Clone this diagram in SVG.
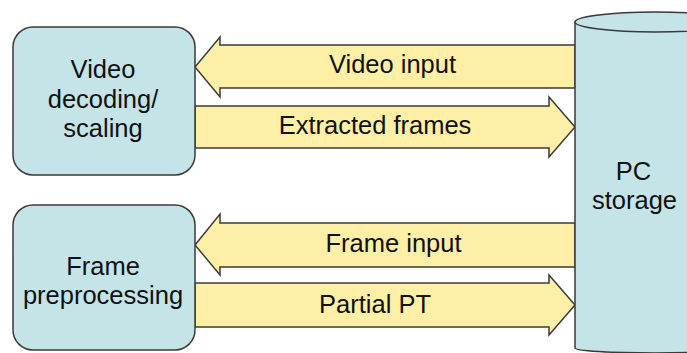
<svg xmlns="http://www.w3.org/2000/svg" width="687" height="353" viewBox="0 0 687 353">
  <style>
    .proc { fill: #c5e4e8; stroke: #3a3a3a; stroke-width: 1.5; }
    .flow { fill: #fdefa6; stroke: #3a3a3a; stroke-width: 1.5; stroke-linejoin: miter; }
    .store { fill: #c5e4e8; stroke: #3a3a3a; stroke-width: 1.5; }
    text { font-family: "Liberation Sans", Arial, sans-serif; font-size: 25.5px; fill: #111; text-anchor: middle; }
  </style>
  <rect width="687" height="353" fill="#ffffff"/>

  <!-- block arrows between the processing stages and storage -->
  <g id="connectors">
    <g id="flow-video-input">
      <polygon class="flow" points="195,67 220,37 220,45 575,45 575,88 220,88 220,97"/>
      <text x="392.5" y="73">Video input</text>
    </g>
    <g id="flow-extracted-frames">
      <polygon class="flow" points="195,106 549,106 549,97 575,127 549,157 549,148 195,148"/>
      <text x="375" y="134">Extracted frames</text>
    </g>
    <g id="flow-frame-input">
      <polygon class="flow" points="195,245 220,214 220,223 575,223 575,267 220,267 220,275"/>
      <text x="393.5" y="252">Frame input</text>
    </g>
    <g id="flow-partial-pt">
      <polygon class="flow" points="195,283 549,283 549,275 575,305 549,335 549,327 195,327"/>
      <text x="375" y="313">Partial PT</text>
    </g>
  </g>

  <!-- processing stages -->
  <g id="video-decoding">
    <rect class="proc" x="13" y="27" width="182" height="148" rx="20" ry="20"/>
    <text x="103" y="78">Video</text>
    <text x="103" y="107.5">decoding/</text>
    <text x="103" y="137">scaling</text>
  </g>
  <g id="frame-preprocessing">
    <rect class="proc" x="13" y="205" width="182" height="145" rx="20" ry="20"/>
    <text x="103" y="275">Frame</text>
    <text x="103" y="304">preprocessing</text>
  </g>

  <!-- storage cylinder -->
  <g id="pc-storage">
    <path class="store" d="M575,22 L575,348 A80,5 0 0 0 735,348 L735,22 Z"/>
    <ellipse class="store" cx="655" cy="22" rx="80" ry="10"/>
    <text x="633.5" y="180">PC</text>
    <text x="634.5" y="209">storage</text>
  </g>
</svg>
